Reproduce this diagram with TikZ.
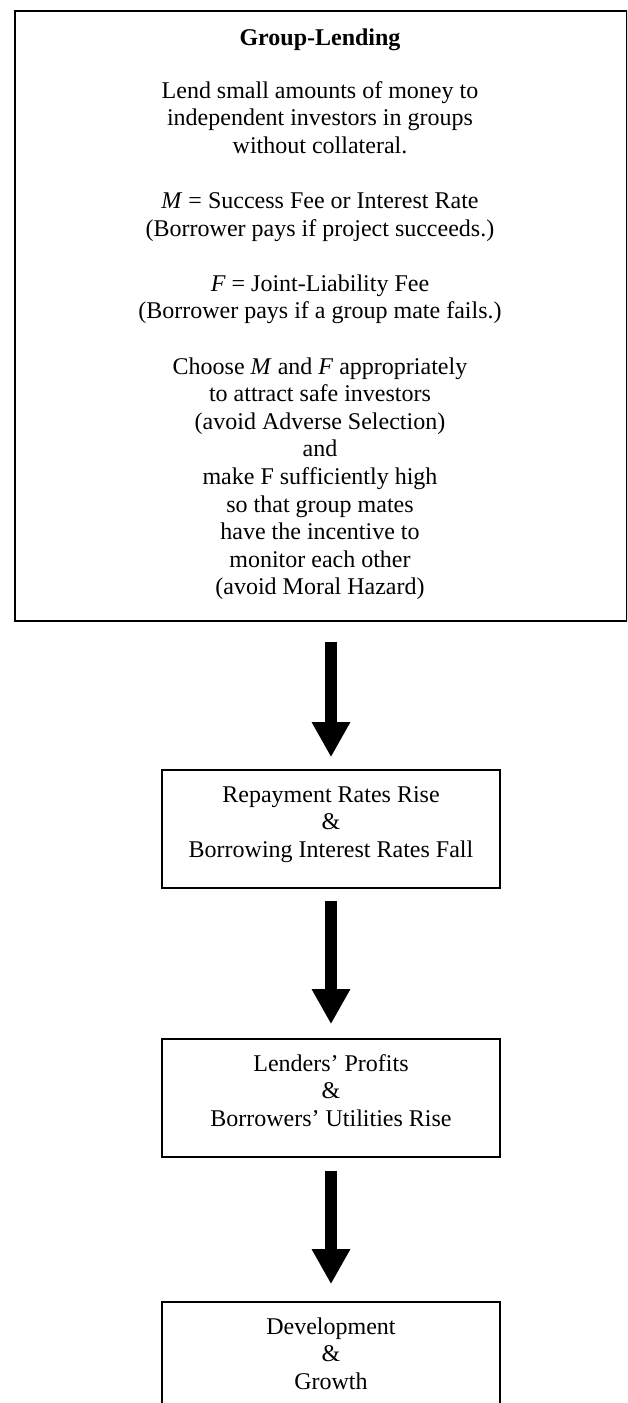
\documentclass[tikz,border=0pt]{standalone}
\usepackage{fontspec}
\setmainfont{Liberation Serif}
\usetikzlibrary{arrows.meta}
\begin{document}
\begin{tikzpicture}[x=1pt,y=-1pt,
  frame/.style={draw=black, line width=1.6pt, inner sep=0pt, minimum width=338pt, minimum height=118pt},
  txt/.style={anchor=base, align=center, inner sep=0pt, font=\fontsize{24}{27.6}\selectfont},
  bigarrow/.style={line width=12pt, -{Triangle[width=36pt,length=35pt]}}
]
\useasboundingbox (0,0) rectangle (627,1403);
\clip (0,0) rectangle (627,1403);
% top box
\node[draw=black, line width=1.6pt, inner sep=0pt, minimum width=612pt, minimum height=610pt, anchor=north west] (top) at (14,10) {};
% anchor=base is the baseline of the last line
\node[txt] (toptext) at (320,594.8) {\textbf{Group-Lending}\\[25.4pt]
Lend small amounts of money to\\ independent investors in groups\\ without collateral.\\[27.6pt]
\textit{M} = Success Fee or Interest Rate\\ (Borrower pays if project succeeds.)\\[27.6pt]
\textit{F} = Joint-Liability Fee\\ (Borrower pays if a group mate fails.)\\[27.6pt]
Choose \textit{M} and \textit{F} appropriately\\ to attract safe investors\\ (avoid Adverse Selection)\\ and\\ make F sufficiently high\\ so that group mates\\ have the incentive to\\ monitor each other\\ (avoid Moral Hazard)};
% boxes
\node[frame] (b2) at (331,829) {};
\node[frame] (b3) at (331,1098) {};
\node[frame] (b4) at (331,1361) {};
\node[txt] (t2) at ([yshift=-88.2pt]b2.north) {Repayment Rates Rise\\ \&\\ Borrowing Interest Rates Fall};
\node[txt] (t3) at ([yshift=-88.2pt]b3.north) {Lenders’ Profits\\ \&\\ Borrowers’ Utilities Rise};
\node[txt] (t4) at ([yshift=-88.2pt]b4.north) {Development\\ \&\\ Growth};
% arrows
\draw[bigarrow] ([yshift=-20pt]top.south -| b2.north) -- ([yshift=12pt]b2.north);
\draw[bigarrow] ([yshift=-12pt]b2.south) -- ([yshift=14pt]b3.north);
\draw[bigarrow] ([yshift=-13pt]b3.south) -- ([yshift=17pt]b4.north);
\end{tikzpicture}
\end{document}
